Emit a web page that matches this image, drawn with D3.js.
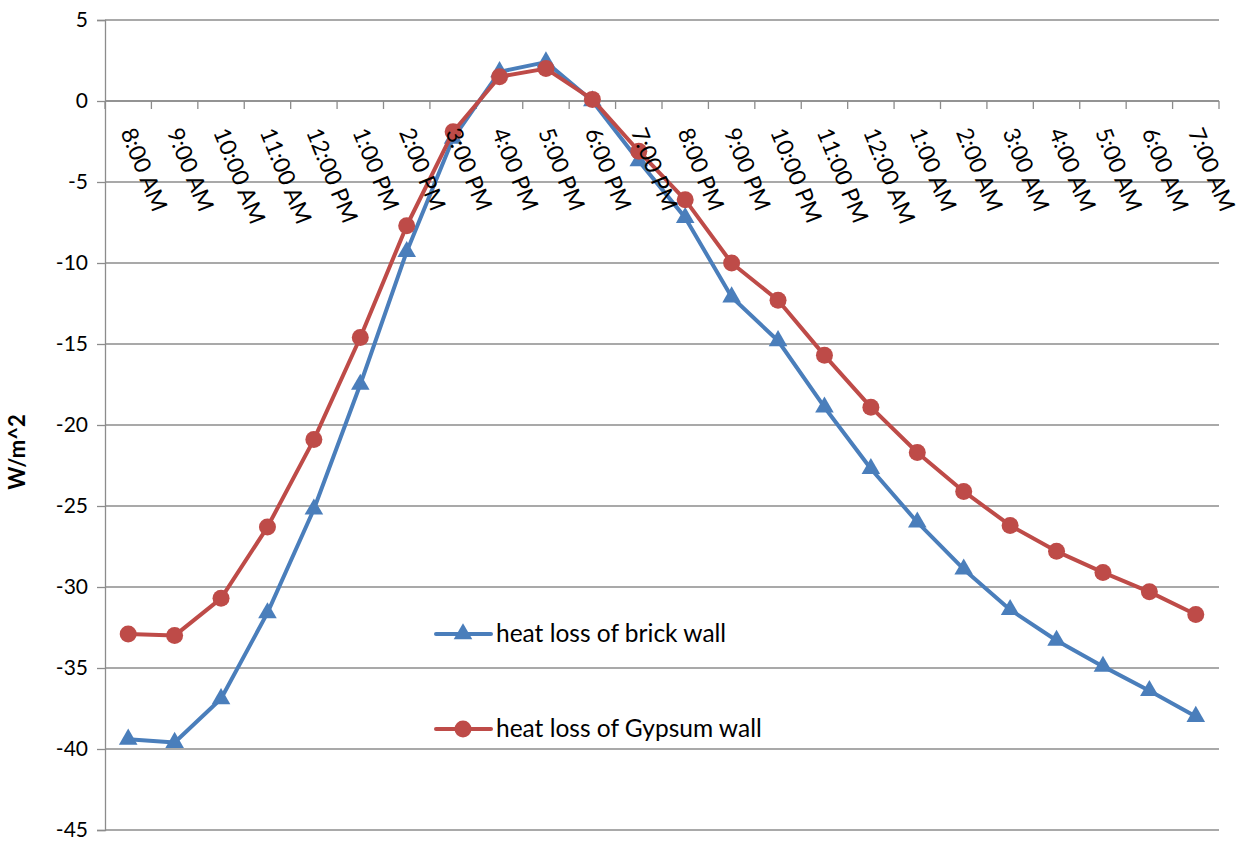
<!DOCTYPE html>
<html>
<head>
<meta charset="utf-8">
<script src="https://cdn.jsdelivr.net/npm/d3@7"></script>
<style>
  html, body { margin: 0; padding: 0; background: #fff; }
  svg { display: block; font-family: Lato, "Open Sans", sans-serif; }
</style>
</head>
<body>
<svg id="chart" width="1243" height="842"></svg>
<script>
// Hourly categories over one day
const hours = ["8:00 AM","9:00 AM","10:00 AM","11:00 AM","12:00 PM","1:00 PM","2:00 PM","3:00 PM",
  "4:00 PM","5:00 PM","6:00 PM","7:00 PM","8:00 PM","9:00 PM","10:00 PM","11:00 PM","12:00 AM",
  "1:00 AM","2:00 AM","3:00 AM","4:00 AM","5:00 AM","6:00 AM","7:00 AM"];

// Heat loss through each wall type, W/m^2
const brickWall = [-39.4, -39.6, -36.9, -31.6, -25.2, -17.5, -9.3, -2.3, 1.8, 2.4, 0.0, -3.7,
  -7.2, -12.1, -14.8, -18.9, -22.7, -26.0, -28.9, -31.4, -33.3, -34.9, -36.4, -38.0];
const gypsumWall = [-32.9, -33.0, -30.7, -26.3, -20.9, -14.6, -7.7, -1.9, 1.5, 2.0, 0.1, -3.1,
  -6.1, -10.0, -12.3, -15.7, -18.9, -21.7, -24.1, -26.2, -27.8, -29.1, -30.3, -31.7];

const yTicks = [5, 0, -5, -10, -15, -20, -25, -30, -35, -40, -45];
const seriesNames = ["heat loss of brick wall", "heat loss of Gypsum wall"];

const blue = "#4a7ebb", red = "#be4b48", grid = "#8c8c8c";

const svg = d3.select("#chart");
const plotLeft = 105, plotRight = 1219, plotTop = 20, plotBottom = 830;

const x = d3.scaleBand().domain(hours).range([plotLeft, plotRight]).padding(0);
const y = d3.scaleLinear().domain([-45, 5]).range([plotBottom, plotTop]);

// Horizontal gridlines
svg.append("g").selectAll("line").data(yTicks).join("line")
  .attr("x1", plotLeft).attr("x2", plotRight)
  .attr("y1", d => y(d)).attr("y2", d => y(d))
  .attr("stroke", grid).attr("stroke-width", 1.3);

// Vertical axis with outward ticks
const yAxis = svg.append("g").attr("transform", `translate(${plotLeft},0)`)
  .call(d3.axisLeft(y).tickValues(yTicks).tickSize(8).tickPadding(9).tickFormat(d3.format("d")));
yAxis.select(".domain").attr("stroke", grid).attr("stroke-width", 1.3);
yAxis.selectAll(".tick line").attr("stroke", grid).attr("stroke-width", 1.3);
yAxis.selectAll(".tick text").attr("font-size", 21).attr("fill", "#000")
  .attr("font-family", "Lato, sans-serif").text(d => d < 0 ? "-" + Math.abs(d) : d);

// Category axis along the zero line: tick marks on category boundaries
const boundaries = d3.range(hours.length + 1).map(i => plotLeft + i * x.bandwidth());
svg.append("g").selectAll("line").data(boundaries).join("line")
  .attr("x1", d => d).attr("x2", d => d)
  .attr("y1", y(0)).attr("y2", y(0) + 8)
  .attr("stroke", grid).attr("stroke-width", 1.3);
svg.append("line").attr("x1", plotLeft).attr("x2", plotRight)
  .attr("y1", y(0)).attr("y2", y(0)).attr("stroke", grid).attr("stroke-width", 1.3);

// Series lines and markers
const line = d3.line().x((d, i) => x(hours[i]) + x.bandwidth() / 2).y(d => y(d));
const tri = d3.symbol().type(d3.symbolTriangle).size(150);

function drawSeries(values, color, marker) {
  const g = svg.append("g");
  g.append("path").datum(values).attr("d", line)
    .attr("fill", "none").attr("stroke", color).attr("stroke-width", 4)
    .attr("stroke-linejoin", "round").attr("stroke-linecap", "round");
  const pts = g.selectAll(".pt").data(values).join("g")
    .attr("transform", (d, i) => `translate(${x(hours[i]) + x.bandwidth() / 2},${y(d)})`);
  if (marker === "tri") pts.append("path").attr("d", tri).attr("fill", color);
  else pts.append("circle").attr("r", 8.5).attr("fill", color);
}
drawSeries(brickWall, blue, "tri");
drawSeries(gypsumWall, red, "circle");

// Rotated category labels, drawn over the series
svg.append("g").selectAll("text").data(hours).join("text")
  .attr("transform", d => `translate(${x(d) + x.bandwidth() / 2 - 8},${y(0) + 31}) rotate(68)`)
  .attr("font-size", 23).attr("fill", "#000").text(d => d);

// Legend inside the plot
const legend = svg.append("g");
const legendItems = [
  { name: seriesNames[0], color: blue, marker: "tri", y: 634 },
  { name: seriesNames[1], color: red, marker: "circle", y: 729 }
];
legendItems.forEach(it => {
  legend.append("line").attr("x1", 436).attr("x2", 491).attr("y1", it.y).attr("y2", it.y)
    .attr("stroke", it.color).attr("stroke-width", 4).attr("stroke-linecap", "round");
  if (it.marker === "tri")
    legend.append("path").attr("d", tri).attr("transform", `translate(463,${it.y})`).attr("fill", it.color);
  else
    legend.append("circle").attr("cx", 463).attr("cy", it.y).attr("r", 8.5).attr("fill", it.color);
  legend.append("text").attr("x", 496).attr("y", it.y + 8)
    .attr("font-size", 24.5).attr("fill", "#000").text(it.name);
});

// Vertical axis title
svg.append("text")
  .attr("transform", `translate(25,452) rotate(-90)`)
  .attr("text-anchor", "middle").attr("font-size", 22).attr("font-weight", "bold")
  .attr("fill", "#000").text("W/m^2");
</script>
</body>
</html>
